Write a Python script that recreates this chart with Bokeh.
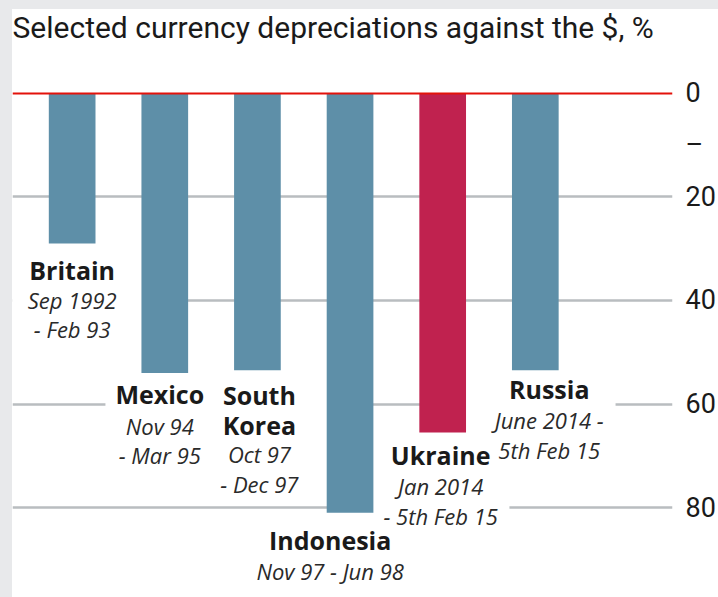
from bokeh.plotting import figure
from bokeh.models import Range1d, FixedTicker, Span, Spacer, Label
from bokeh.layouts import column, row
from bokeh.core.properties import value
from bokeh.embed import file_html
from bokeh.resources import INLINE

# ---- data ----
title_text = "Selected currency depreciations against the $, %"
countries = ["Britain", "Mexico", "South Korea", "Indonesia", "Ukraine", "Russia"]
name_labels = ["Britain", "Mexico", "South\nKorea", "Indonesia", "Ukraine", "Russia"]
periods = ["Sep 1992\n- Feb 93", "Nov 94\n- Mar 95", "Oct 97\n- Dec 97",
           "Nov 97 - Jun 98", "Jan 2014\n- 5th Feb 15", "June 2014 -\n5th Feb 15"]
depreciation = [29, 54, 53.5, 81, 65.5, 53.5]
highlight = [False, False, False, False, True, False]
y_ticks = [0, 10, 20, 40, 60, 80]
y_tick_overrides = {10: "–"}
grid_ticks = [20, 40, 60, 80]

# ---- layout (pixels) ----
PX_X = 93.2     # pixels per category step
PX_Y = 5.175    # pixels per percentage point
X_START, X_END = -0.644, 6.481
Y_BOTTOM, Y_TOP = 97.39, -16.23
TITLE_MID_PX = 66   # title's vertical centre, px above the zero line
label_dx = [0, -5, 2, -20, -2, 14]
name_dy = [9, 4, 8, 10, 6, 2]
period_dy = [32, 34, 61, 33, 33, 33]
# white label boxes: (extra left, extra right, extra top/bottom) in px
name_box = [(2, 2, 0), (10, 12, 2), (12, 36, 0), (2, 2, 0), (2, 2, 0), (46, 26, 4)]
period_box = [(18, 28, 2), (2, 2, 0), (2, 2, 0), (2, 2, 0), (11, 12, 2), (28, 8, 6)]

BLUE = "#5e8fa8"
RED = "#c0224f"
TEXT = "#1a1a1a"
GREY = "#e8e9eb"

idx = list(range(len(countries)))
colors = [RED if h else BLUE for h in highlight]

p = figure(width=706, height=588,
           x_range=Range1d(X_START, X_END), y_range=Range1d(Y_BOTTOM, Y_TOP),
           output_backend="svg", toolbar_location=None,
           x_axis_location=None, y_axis_location="right",
           min_border_left=0, min_border_right=42, min_border_top=0, min_border_bottom=0)
p.outline_line_color = None
p.background_fill_color = "white"
p.border_fill_color = "white"

p.xgrid.visible = False
p.ygrid.ticker = FixedTicker(ticks=grid_ticks)
p.ygrid.grid_line_color = "#b9bdc0"
p.ygrid.grid_line_width = 2.5

ax = p.yaxis[0]
ax.ticker = FixedTicker(ticks=y_ticks)
ax.major_label_overrides = y_tick_overrides
ax.axis_line_color = None
ax.major_tick_line_color = None
ax.minor_tick_line_color = None
ax.major_label_standoff = 7
ax.major_label_text_font = "Roboto"
ax.major_label_text_font_size = "27px"
ax.major_label_text_color = TEXT

# chart title
p.add_layout(Label(x=X_START, y=-TITLE_MID_PX / PX_Y, text=title_text,
                   text_font="Roboto", text_font_size="30px", text_color=TEXT,
                   text_align="left", text_baseline="middle"))

name_x = [i + label_dx[i] / PX_X for i in idx]
name_y = [depreciation[i] + name_dy[i] / PX_Y for i in idx]
period_y = [name_y[i] + period_dy[i] / PX_Y for i in idx]

name_style = dict(text_font=value("Open Sans"), text_font_style="bold",
                  text_font_size="25px", text_align="center", text_baseline="top",
                  text_line_height=0.88)
period_style = dict(text_font=value("Open Sans"), text_font_style="italic",
                    text_font_size="22px", text_align="center", text_baseline="top",
                    text_line_height=0.98)


def add_box(x, y, txt, box, style):
    left, right, vert = box
    half = (left + right) // 2
    shift = (right - left) / 2.0 / PX_X
    p.text(x=[x + shift], y=[y], text=[txt], text_alpha=0,
           background_fill_color="white",
           padding=dict(left=half, right=half, top=vert, bottom=vert), **style)


# white boxes behind labels (hide gridlines)
for i in idx:
    add_box(name_x[i], name_y[i], name_labels[i], name_box[i], name_style)
    add_box(name_x[i], period_y[i], periods[i], period_box[i], period_style)

p.vbar(x=idx, bottom=0, top=depreciation, width=0.504, fill_color=colors, line_color=None)

p.text(x=name_x, y=name_y, text=name_labels, text_color=TEXT, **name_style)
p.text(x=name_x, y=period_y, text=periods, text_color="#2a2a2a", **period_style)

p.add_layout(Span(location=0, dimension="width", line_color="#e3120b", line_width=2))

top_strip = Spacer(width=718, height=9, styles={"background-color": GREY})
left_strip = Spacer(width=12, height=588, styles={"background-color": GREY})
page = column(top_strip, row(left_strip, p))

open("out.html", "w").write(file_html(page, INLINE))
